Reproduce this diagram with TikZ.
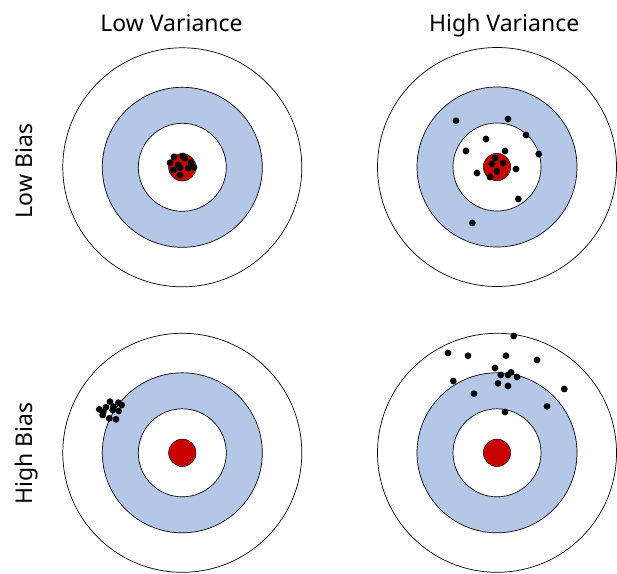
\documentclass[tikz,border=0pt]{standalone}
\usepackage{fontspec}
\setmainfont{Noto Sans}
\usetikzlibrary{positioning}
\definecolor{ringblue}{RGB}{180,199,231}
\definecolor{bullred}{RGB}{200,0,0}

\begin{document}
\begin{tikzpicture}[
      x = 1pt, y = -1pt,
      outer/.style = {draw,line width = 0.7pt,fill = white},
      ring/.style = {draw,line width = 0.7pt,fill = ringblue},
      inner/.style = {draw,line width = 0.7pt,fill = white},
      bull/.style = {draw,line width = 0.5pt,fill = bullred},
      shot/.style = {fill = black},
      title/.style = {font = \fontsize{23}{26}\selectfont,inner sep = 0}
      ]
      \useasboundingbox (0,0) rectangle (617,573);
      % four targets
      \foreach \cx/\cy/\nm in {182.3/167.3/lowlow, 497/167/lowhigh, 182.3/452.8/highlow, 497/452.8/highhigh} {
        \coordinate (\nm) at (\cx,\cy);
        \draw[outer] (\nm) circle (119.5pt);
        \draw[ring] (\nm) circle (80pt);
        \draw[inner] (\nm) circle (44pt);
        \draw[bull] (\nm) circle (13.7pt);
      }
      % shots
      \begin{scope}[shift = {(lowlow)}]
        \foreach \dx/\dy in {-8.3/-10.6, -12.3/-4.6, 0.4/-11.3, 2.7/-9, 8.7/-4.6, -4/-2.3, -9/2.7, -2.3/0.4, 6/1, 11.7/0, -2.3/7.7, 1.7/-10.6}
          \fill[shot] (\dx,\dy) circle (3.4pt);
      \end{scope}
      \begin{scope}[shift = {(lowhigh)}]
        \foreach \dx/\dy in {-41/-46.3, 11/-48, 29/-32, -11/-28, -31/-16, 8/-16, 41.7/-13, -2/-9, -5/-3, 6/-4, 19/2, -20/6, 0/4.3, -7/10, 21.3/32, -24.7/56}
          \fill[shot] (\dx,\dy) circle (3.4pt);
      \end{scope}
      \begin{scope}[shift = {(highlow)}]
        \foreach \dx/\dy in {-83/-43.5, -79.6/-37.8, -76.3/-45.5, -72.3/-51.1, -69.6/-42.8, -64/-50.1, -60.6/-47.8, -63.6/-41.8, -73/-34.5, -66.3/-33.5, -79/-41.1, -69/-46.1}
          \fill[shot] (\dx,\dy) circle (3.4pt);
      \end{scope}
      \begin{scope}[shift = {(highhigh)}]
        \foreach \dx/\dy in {16.7/-116.8, -49/-99.8, -29/-97.1, 9/-97.1, 40/-92.8, -2/-84.8, 3.7/-77.8, 11/-77.8, 14/-80.5, 20/-75.8, -43.7/-71.8, 1/-69.5, 11/-66.8, 67.3/-63.8, -23/-59.1, 50/-46.5, 8/-40.8}
          \fill[shot] (\dx,\dy) circle (3.4pt);
      \end{scope}
      % labels
      \node (lowvar)[title,anchor = base] at (171.5,31.7) {Low Variance};
      \node (highvar)[title,anchor = base] at (504.2,31.7) {High Variance};
      \node (lowbias)[title,rotate = 90,anchor = base] at (32.7,171) {Low Bias};
      \node (highbias)[title,rotate = 90,anchor = base] at (32.7,453.3) {High Bias};
    \end{tikzpicture}
\end{document}
